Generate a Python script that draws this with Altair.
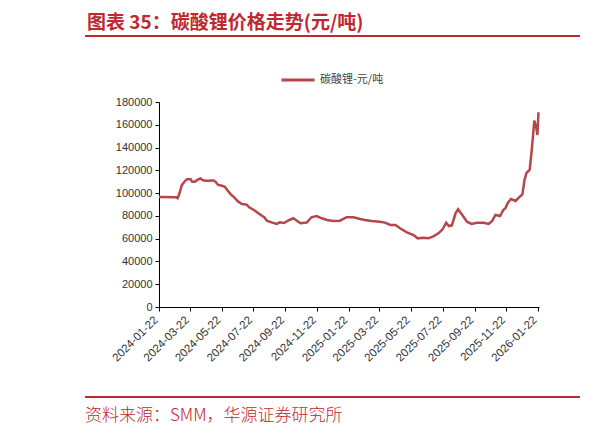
import altair as alt
import pandas as pd

# 碳酸锂价格 (元/吨), 读自原图
dates = [
    "2024-01-22", "2024-02-24", "2024-02-27", "2024-03-02", "2024-03-06", "2024-03-11",
    "2024-03-16", "2024-03-23", "2024-03-26", "2024-03-31", "2024-04-05", "2024-04-11",
    "2024-04-16", "2024-04-22", "2024-04-29", "2024-05-05", "2024-05-10", "2024-05-15",
    "2024-05-21", "2024-05-28", "2024-06-02", "2024-06-08", "2024-06-15", "2024-06-22",
    "2024-06-30", "2024-07-09", "2024-07-14", "2024-07-23", "2024-07-31", "2024-08-06",
    "2024-08-12", "2024-08-17", "2024-08-26", "2024-09-05", "2024-09-11", "2024-09-19",
    "2024-09-27", "2024-10-07", "2024-10-14", "2024-10-21", "2024-11-02", "2024-11-11",
    "2024-11-21", "2024-12-01", "2024-12-11", "2024-12-23", "2025-01-05", "2025-01-18",
    "2025-01-31", "2025-02-13", "2025-02-22", "2025-03-07", "2025-03-23", "2025-04-02",
    "2025-04-12", "2025-04-22", "2025-05-01", "2025-05-14", "2025-05-27", "2025-06-04",
    "2025-06-15", "2025-06-25", "2025-07-05", "2025-07-14", "2025-07-22", "2025-07-29",
    "2025-08-03", "2025-08-09", "2025-08-16", "2025-08-21", "2025-08-29", "2025-09-07",
    "2025-09-16", "2025-09-26", "2025-10-09", "2025-10-19", "2025-10-26", "2025-11-01",
    "2025-11-10", "2025-11-16", "2025-11-20", "2025-11-25", "2025-12-01", "2025-12-10",
    "2025-12-16", "2025-12-23", "2025-12-27", "2025-12-31", "2026-01-06", "2026-01-10",
    "2026-01-15", "2026-01-19", "2026-01-21", "2026-01-23",
]
prices = [
    96500, 96300, 95600, 100500, 107000, 110000,
    112200, 112200, 109900, 110000, 111600, 112800,
    111300, 110800, 110800, 111300, 110100, 107200,
    106700, 105500, 102600, 99100, 96200, 92800,
    90400, 89900, 87500, 85200, 82600, 80500,
    78800, 75800, 74300, 72900, 74300, 73700,
    75800, 77900, 75800, 73500, 74100, 78800,
    79900, 77900, 76400, 75500, 75800, 78800,
    78800, 77300, 76400, 75500, 74900, 74100,
    72000, 72000, 69100, 65600, 63200, 60300,
    60900, 60300, 62300, 64700, 68200, 74000,
    71100, 71700, 82300, 85800, 80800, 74900,
    72900, 74000, 74000, 72900, 75800, 80800,
    79900, 85200, 86600, 91600, 94800, 93100,
    96000, 98900, 111500, 117900, 120300, 137800,
    163600, 156900, 151000, 171000,
]
series_name = "碳酸锂-元/吨"

x_ticks = [
    "2024-01-22", "2024-03-22", "2024-05-22", "2024-07-22", "2024-09-22", "2024-11-22",
    "2025-01-22", "2025-03-22", "2025-05-22", "2025-07-22", "2025-09-22", "2025-11-22",
    "2026-01-22",
]
x_domain = ["2024-01-22", "2026-01-24"]
y_ticks = [0, 20000, 40000, 60000, 80000, 100000, 120000, 140000, 160000, 180000]

title_text = "图表 35：碳酸锂价格走势(元/吨)"
source_text = "资料来源：SMM，华源证券研究所"

RED = "#C0282E"
LINE = "#B5474B"


def to_ms(days):
    return [int(v) for v in pd.to_datetime(days).astype("int64") // 10**6]


df = pd.DataFrame({"date": dates, "price": prices, "series": series_name})

line = alt.Chart(df).mark_line(strokeWidth=2.5).encode(
    x=alt.X("date:T", title=None,
            scale=alt.Scale(type="utc", domain=to_ms(x_domain)),
            axis=alt.Axis(values=to_ms(x_ticks),
                          labelExpr="utcFormat(datum.value, '%Y-%m-%d')",
                          labelAngle=-45, labelAlign="right", labelBaseline="middle",
                          labelPadding=7, labelOffset=-3, tickSize=4, grid=False,
                          domainColor="black", tickColor="black",
                          labelFont="Liberation Sans", labelFontSize=11.5, labelColor="#333",
                          labelOverlap=False)),
    y=alt.Y("price:Q", title=None,
            scale=alt.Scale(domain=[0, 180000], nice=False),
            axis=alt.Axis(values=y_ticks, format="d", tickSize=4, labelPadding=3, grid=False,
                          domainColor="black", tickColor="black",
                          labelFont="Liberation Sans", labelFontSize=11, labelColor="#333")),
    color=alt.Color("series:N", scale=alt.Scale(range=[LINE]),
                    legend=alt.Legend(orient="none", legendX=121, legendY=-40, title=None,
                                      symbolType="stroke", symbolSize=1089, symbolStrokeWidth=3,
                                      labelFont="Noto Sans CJK SC", labelFontSize=11,
                                      labelColor="#444", labelOffset=4, padding=0)),
)

title = alt.Chart(pd.DataFrame({"t": [title_text]})).mark_text(
    align="left", baseline="alphabetic", font="Noto Sans CJK SC", fontSize=19,
    fontWeight="bold", color=RED,
).encode(text="t:N", x=alt.value(-72), y=alt.value(-73))

source = alt.Chart(pd.DataFrame({"t": [source_text]})).mark_text(
    align="left", baseline="alphabetic", font="Noto Sans CJK SC", fontSize=17,
    fontWeight=300, color=RED,
).encode(text="t:N", x=alt.value(-74), y=alt.value(319))

top_rule = alt.Chart(pd.DataFrame({"a": [0]})).mark_rule(color=RED, strokeWidth=2).encode(
    x=alt.value(-74), x2=alt.value(421), y=alt.value(-66))
bottom_rule = alt.Chart(pd.DataFrame({"a": [0]})).mark_rule(color=RED, strokeWidth=2).encode(
    x=alt.value(-74), x2=alt.value(421), y=alt.value(295))

chart = alt.layer(line, title, source, top_rule, bottom_rule).properties(
    width=380, height=205,
    autosize="none",
    padding={"left": 151, "top": 94, "right": 60, "bottom": 118},
).configure_view(stroke=None)

chart.save("out.html", embed_options={"renderer": "svg", "actions": False})
